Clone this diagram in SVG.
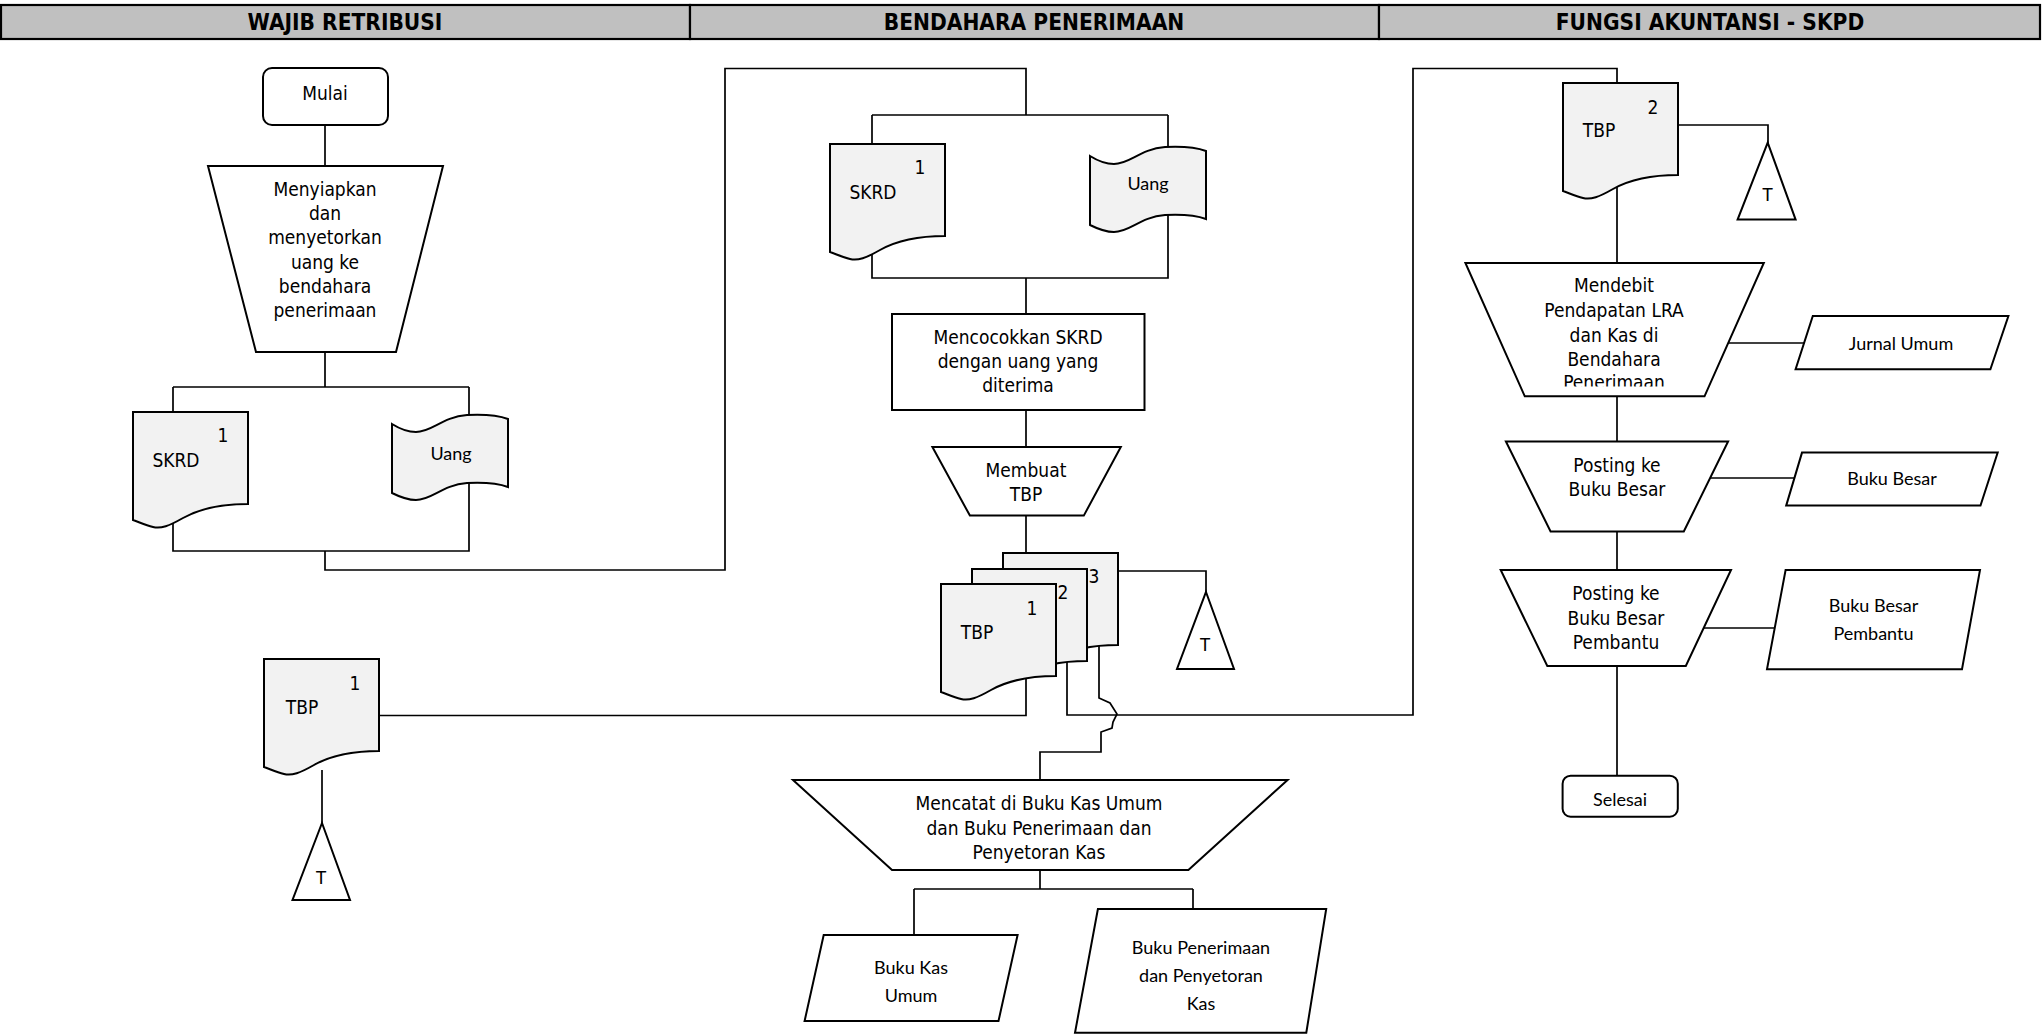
<svg xmlns="http://www.w3.org/2000/svg" width="2044" height="1034" viewBox="0 0 2044 1034">
  <style>
    .hdr { fill: #c0c0c0; stroke: #000; stroke-width: 2.2; }
    .hdrt { font-family: "DejaVu Sans Condensed", "DejaVu Sans", sans-serif; font-stretch: condensed; font-weight: bold; font-size: 22.5px; text-anchor: middle; dominant-baseline: central; fill: #000; }
    .con { fill: none; stroke: #000; stroke-width: 1.7; }
    .shape { fill: #fff; stroke: #000; stroke-width: 2; stroke-linejoin: miter; }
    .paper { fill: #f2f2f2; stroke: #000; stroke-width: 2; }
    .t { font-family: "DejaVu Sans Condensed", "DejaVu Sans", sans-serif; font-stretch: condensed; font-size: 19px; text-anchor: middle; dominant-baseline: central; fill: #000; }
    .s { font-family: Lato, "Liberation Sans", sans-serif; font-size: 18px; text-anchor: middle; dominant-baseline: central; fill: #000; }
  </style>
  <defs>
    <!-- document symbol, 115 wide, wavy bottom -->
    <path id="doc" d="M0,0 H115 V92 C88,92 66,97 50,106 C36,114 28,117 20,115 C12,113 6,110 0,108 Z"/>
    <!-- punched tape symbol, 116 wide -->
    <path id="tape" d="M0,9 C8,14 15,17 24,17 C40,17 50,2 75,0 C95,-1 108,1 116,4 V72 C108,69 95,67 75,68 C50,70 40,85 24,85 C15,85 8,82 0,78 Z"/>
    <!-- text box of the journal step; its last line runs past the bottom -->
    <clipPath id="clipDebit"><rect x="1460" y="263" width="310" height="123.5"/></clipPath>
  </defs>

  <rect width="2044" height="1034" fill="#fff"/>

  <!-- swimlane headers -->
  <g id="lanes">
    <rect class="hdr" x="1" y="5" width="689" height="34"/>
    <rect class="hdr" x="690" y="5" width="689" height="34"/>
    <rect class="hdr" x="1379" y="5" width="661" height="34"/>
    <text class="hdrt" x="345" y="22">WAJIB RETRIBUSI</text>
    <text class="hdrt" x="1034" y="22">BENDAHARA PENERIMAAN</text>
    <text class="hdrt" x="1710" y="22">FUNGSI AKUNTANSI - SKPD</text>
  </g>

  <!-- connectors -->
  <g id="connectors">
    <path class="con" d="M325,125 V166"/>
    <path class="con" d="M325,352 V387 M173,387 H469 M173,387 V412 M469,387 V416"/>
    <path class="con" d="M173,500 V551 H469 V480 M325,551 V570 H725 V68.5 H1026 V115"/>
    <path class="con" d="M872,115 H1168 M872,115 V144 M1168,115 V148"/>
    <path class="con" d="M872,240 V278 H1168 V210 M1026,278 V314"/>
    <path class="con" d="M1026,410 V447 M1026,515 V553"/>
    <path class="con" d="M1118,571 H1206 V592"/>
    <path class="con" d="M1026,670 V715.5 H380"/>
    <path class="con" d="M1067,655 V715 H1413 V68.5 H1617 V83"/>
    <path class="con" d="M1099,640 V698 L1110,703 L1117,714 L1113,722 L1112,728 L1101,732 V752 H1040 V780"/>
    <path class="con" d="M1040,870 V889 M914,889 H1193 M914,889 V935 M1193,889 V909"/>
    <path class="con" d="M322,770 V823"/>
    <path class="con" d="M1678,125 H1768 V143 M1617,185 V263"/>
    <path class="con" d="M1720,343 H1804"/>
    <path class="con" d="M1617,396 V441.5"/>
    <path class="con" d="M1700,478 H1794"/>
    <path class="con" d="M1617,531 V570"/>
    <path class="con" d="M1700,628 H1776"/>
    <path class="con" d="M1617,666 V776"/>
  </g>

  <!-- Wajib Retribusi lane -->
  <g id="mulai">
    <rect class="shape" x="263" y="68" width="125" height="57" rx="9"/>
    <text class="t" x="325" y="93">Mulai</text>
  </g>
  <g id="menyiapkan">
    <polygon class="shape" points="208,166 443,166 396,352 256,352"/>
    <text class="t" x="325" y="189">Menyiapkan</text>
    <text class="t" x="325" y="213">dan</text>
    <text class="t" x="325" y="237">menyetorkan</text>
    <text class="t" x="325" y="261.5">uang ke</text>
    <text class="t" x="325" y="286">bendahara</text>
    <text class="t" x="325" y="310">penerimaan</text>
  </g>
  <g id="skrd-wr">
    <use href="#doc" class="paper" x="133" y="412"/>
    <text class="t" x="223" y="435">1</text>
    <text class="t" x="176" y="460">SKRD</text>
  </g>
  <g id="uang-wr">
    <use href="#tape" class="paper" x="392" y="415"/>
    <text class="s" x="451" y="453">Uang</text>
  </g>
  <g id="tbp1-wr">
    <use href="#doc" class="paper" x="264" y="659"/>
    <text class="t" x="355" y="683">1</text>
    <text class="t" x="302" y="707">TBP</text>
  </g>
  <g id="arsip-wr">
    <polygon class="shape" points="322,823 350,900 292.5,900"/>
    <text class="s" x="321" y="877">T</text>
  </g>

  <!-- Bendahara Penerimaan lane -->
  <g id="skrd-bp">
    <use href="#doc" class="paper" x="830" y="144"/>
    <text class="t" x="920" y="167">1</text>
    <text class="t" x="873" y="191.5">SKRD</text>
  </g>
  <g id="uang-bp">
    <use href="#tape" class="paper" x="1090" y="147"/>
    <text class="s" x="1148" y="183">Uang</text>
  </g>
  <g id="mencocokkan">
    <rect class="shape" x="892" y="314" width="252.5" height="96"/>
    <text class="t" x="1018" y="337">Mencocokkan SKRD</text>
    <text class="t" x="1018" y="361">dengan uang yang</text>
    <text class="t" x="1018" y="385">diterima</text>
  </g>
  <g id="membuat-tbp">
    <polygon class="shape" points="932.4,447 1120.8,447 1083.8,515.6 969.9,515.6"/>
    <text class="t" x="1026" y="470">Membuat</text>
    <text class="t" x="1026" y="494">TBP</text>
  </g>
  <g id="tbp-set">
    <use href="#doc" class="paper" x="1003" y="553"/>
    <use href="#doc" class="paper" x="972" y="569"/>
    <use href="#doc" class="paper" x="941" y="584"/>
    <text class="t" x="1094" y="576">3</text>
    <text class="t" x="1063" y="592">2</text>
    <text class="t" x="1032" y="608">1</text>
    <text class="t" x="977" y="632">TBP</text>
  </g>
  <g id="arsip-bp">
    <polygon class="shape" points="1206,592 1234,669 1177,669"/>
    <text class="s" x="1205" y="644">T</text>
  </g>
  <g id="mencatat">
    <polygon class="shape" points="793,780 1287.6,780 1188.4,870 892,870"/>
    <text class="t" x="1039" y="803">Mencatat di Buku Kas Umum</text>
    <text class="t" x="1039" y="828">dan Buku Penerimaan dan</text>
    <text class="t" x="1039" y="852">Penyetoran Kas</text>
  </g>
  <g id="buku-kas-umum">
    <polygon class="shape" points="823.7,935 1017.6,935 998.5,1021 804.6,1021"/>
    <text class="s" x="911" y="967">Buku Kas</text>
    <text class="s" x="911" y="995">Umum</text>
  </g>
  <g id="buku-penerimaan">
    <polygon class="shape" points="1097.9,909 1326.2,909 1306.3,1032.7 1075,1032.7"/>
    <text class="s" x="1201" y="947">Buku Penerimaan</text>
    <text class="s" x="1201" y="975">dan Penyetoran</text>
    <text class="s" x="1201" y="1003">Kas</text>
  </g>

  <!-- Fungsi Akuntansi lane -->
  <g id="tbp2">
    <use href="#doc" class="paper" x="1563" y="83"/>
    <text class="t" x="1653" y="107">2</text>
    <text class="t" x="1599" y="130">TBP</text>
  </g>
  <g id="arsip-fa">
    <polygon class="shape" points="1767.7,142.6 1795.6,219.6 1737.6,219.6"/>
    <text class="s" x="1767.5" y="194">T</text>
  </g>
  <g id="mendebit">
    <polygon class="shape" points="1465.4,263 1763.8,263 1704.5,396.3 1524.8,396.3"/>
    <g clip-path="url(#clipDebit)">
      <text class="t" x="1614" y="285">Mendebit</text>
      <text class="t" x="1614" y="310">Pendapatan LRA</text>
      <text class="t" x="1614" y="335">dan Kas di</text>
      <text class="t" x="1614" y="358.5">Bendahara</text>
      <text class="t" x="1614" y="382">Penerimaan</text>
    </g>
  </g>
  <g id="jurnal-umum">
    <polygon class="shape" points="1812.8,316 2008.4,316 1990.4,369.3 1795.6,369.3"/>
    <text class="s" x="1901" y="343">Jurnal Umum</text>
  </g>
  <g id="posting-bb">
    <polygon class="shape" points="1505.9,441.5 1728.1,441.5 1683.8,531.5 1550.6,531.5"/>
    <text class="t" x="1617" y="465">Posting ke</text>
    <text class="t" x="1617" y="489">Buku Besar</text>
  </g>
  <g id="buku-besar">
    <polygon class="shape" points="1802,452.6 1997.7,452.6 1980.5,505.6 1786.2,505.6"/>
    <text class="s" x="1892" y="478">Buku Besar</text>
  </g>
  <g id="posting-bbp">
    <polygon class="shape" points="1500.7,570 1731,570 1685.8,666 1547.3,666"/>
    <text class="t" x="1616" y="593">Posting ke</text>
    <text class="t" x="1616" y="618">Buku Besar</text>
    <text class="t" x="1616" y="642">Pembantu</text>
  </g>
  <g id="buku-besar-pembantu">
    <polygon class="shape" points="1785.6,570 1980,570 1962,669.3 1767,669.3"/>
    <text class="s" x="1873.5" y="605">Buku Besar</text>
    <text class="s" x="1873.5" y="633">Pembantu</text>
  </g>
  <g id="selesai">
    <rect class="shape" x="1562.6" y="775.7" width="115.2" height="41" rx="8"/>
    <text class="s" x="1620" y="799">Selesai</text>
  </g>
</svg>
